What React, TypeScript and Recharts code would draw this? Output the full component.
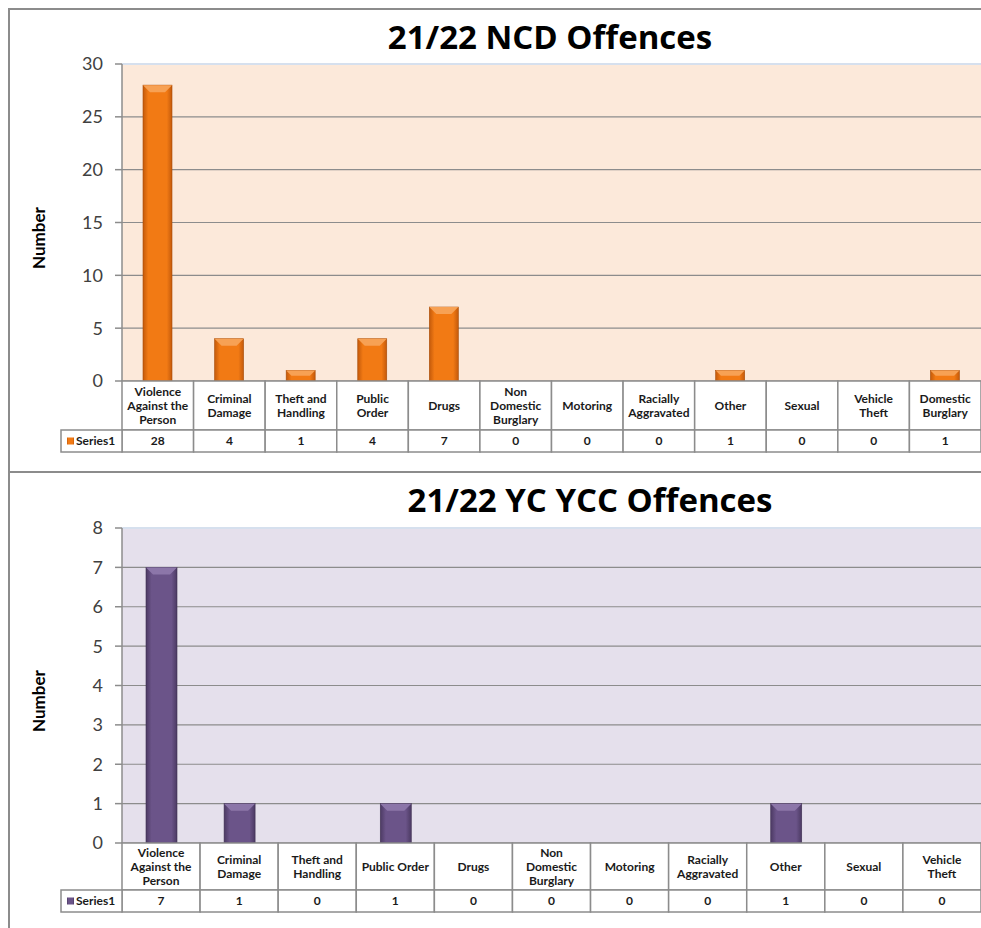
import React from "react";
import { BarChart, Bar, XAxis, YAxis, CartesianGrid, ReferenceLine } from "recharts";

// 21/22 NCD offences
const ncdCategories = [
  "Violence\nAgainst the\nPerson",
  "Criminal\nDamage",
  "Theft and\nHandling",
  "Public\nOrder",
  "Drugs",
  "Non\nDomestic\nBurglary",
  "Motoring",
  "Racially\nAggravated",
  "Other",
  "Sexual",
  "Vehicle\nTheft",
  "Domestic\nBurglary",
];
const ncdValues = [28, 4, 1, 4, 7, 0, 0, 0, 1, 0, 0, 1];
const ncdTicks = [0, 5, 10, 15, 20, 25, 30];

// 21/22 YC YCC offences
const yccCategories = [
  "Violence\nAgainst the\nPerson",
  "Criminal\nDamage",
  "Theft and\nHandling",
  "Public Order",
  "Drugs",
  "Non\nDomestic\nBurglary",
  "Motoring",
  "Racially\nAggravated",
  "Other",
  "Sexual",
  "Vehicle\nTheft",
];
const yccValues = [7, 1, 0, 1, 0, 0, 0, 0, 1, 0, 0];
const yccTicks = [0, 1, 2, 3, 4, 5, 6, 7, 8];

const seriesName = "Series1";

const FONT = "Lato, 'Open Sans', sans-serif";
const TITLE_FONT = "'Open Sans', Lato, sans-serif";
const LINE = "#8C8C8C";
const CHART_W = 971;
const AXIS_W = 112;

type Palette = { edge: string; mid: string; top: string; dark: string };

const orange: Palette = { edge: "#C45A0B", mid: "#F27A14", top: "#F7A154", dark: "#A84C08" };
const purple: Palette = { edge: "#4C3A63", mid: "#6B5489", top: "#8C76A9", dark: "#3F3053" };

interface ChartProps {
  id: string;
  title: string;
  titleX: number;
  categories: string[];
  values: number[];
  ticks: number[];
  height: number;
  marginTop: number;
  marginBottom: number;
  headerH: number;
  rowH: number;
  barSize: number;
  bg: string;
  pal: Palette;
}

const OffenceChart: React.FC<ChartProps> = (p) => {
  const data = p.categories.map((name, i) => ({ name, value: p.values[i] }));
  const max = p.ticks[p.ticks.length - 1];
  const plotBottom = p.height - p.marginBottom - p.headerH - p.rowH;
  const cellW = (CHART_W - AXIS_W) / p.categories.length;

  const renderTick = (props: any) => {
    const { x, index, payload } = props;
    const lines = String(payload.value).split("\n");
    const left = x - cellW / 2;
    const hTop = plotBottom;
    const vTop = plotBottom + p.headerH;
    const lineH = 14;
    const firstY = hTop + p.headerH / 2 - ((lines.length - 1) * lineH) / 2 + 4;
    return (
      <g>
        <rect x={left} y={hTop} width={cellW} height={p.headerH} fill="#fff" stroke={LINE} strokeWidth={1.5} />
        <rect x={left} y={vTop} width={cellW} height={p.rowH} fill="#fff" stroke={LINE} strokeWidth={1.5} />
        <text textAnchor="middle" fontFamily={FONT} fontSize={12} fontWeight={700} fill="#1a1a1a">
          {lines.map((l, i) => (
            <tspan key={i} x={x} y={firstY + i * lineH}>
              {l}
            </tspan>
          ))}
        </text>
        <text x={x} y={vTop + p.rowH / 2 + 4} textAnchor="middle" fontFamily={FONT} fontSize={12} fontWeight={700} fill="#1a1a1a">
          {p.values[index]}
        </text>
        {index === 0 && (
          <g>
            <rect x={51} y={vTop} width={AXIS_W - 51} height={p.rowH} fill="#fff" stroke={LINE} strokeWidth={1.5} />
            <rect x={57} y={vTop + p.rowH / 2 - 3.5} width={7} height={7} fill={`url(#${p.id}-grad)`} />
            <text x={66} y={vTop + p.rowH / 2 + 4} fontFamily={FONT} fontSize={12} fontWeight={700} fill="#1a1a1a">
              {seriesName}
            </text>
          </g>
        )}
      </g>
    );
  };

  const renderBar = (props: any) => {
    const { x, y, width, height } = props;
    if (!height || height <= 0) return <g />;
    const b = Math.min(7, height / 2);
    return (
      <g>
        <rect x={x} y={y} width={width} height={height} fill={`url(#${p.id}-grad)`} stroke={p.pal.dark} strokeWidth={0.6} />
        <polygon
          points={`${x},${y} ${x + width},${y} ${x + width - b},${y + b} ${x + b},${y + b}`}
          fill={p.pal.top}
        />
      </g>
    );
  };

  return (
    <div style={{ position: "relative", width: CHART_W, height: p.height }}>
      <BarChart width={CHART_W} height={p.height} data={data} margin={{ top: p.marginTop, right: 0, left: 0, bottom: p.marginBottom }}>
        <defs>
          <linearGradient id={`${p.id}-grad`} x1="0" y1="0" x2="1" y2="0">
            <stop offset="0%" stopColor={p.pal.edge} />
            <stop offset="18%" stopColor={p.pal.mid} />
            <stop offset="82%" stopColor={p.pal.mid} />
            <stop offset="100%" stopColor={p.pal.edge} />
          </linearGradient>
        </defs>
        <CartesianGrid vertical={false} fill={p.bg} fillOpacity={1} stroke={LINE} strokeWidth={1.2} />
        <XAxis dataKey="name" axisLine={false} tickLine={false} interval={0} height={p.headerH + p.rowH} tick={renderTick} />
        <YAxis
          width={AXIS_W}
          domain={[0, max]}
          ticks={p.ticks}
          interval={0}
          tickSize={7}
          tickMargin={12}
          axisLine={{ stroke: LINE, strokeWidth: 1.5 }}
          tickLine={{ stroke: LINE, strokeWidth: 1.5 }}
          tick={{ fill: "#404040", fontSize: 18, fontFamily: FONT }}
        />
        <ReferenceLine y={max} stroke="#D6E0EE" strokeWidth={2} />
        <Bar dataKey="value" barSize={p.barSize} isAnimationActive={false} shape={renderBar} />
      </BarChart>
      <svg width={CHART_W} height={p.height} style={{ position: "absolute", left: 0, top: 0, pointerEvents: "none" }}>
        <text x={p.titleX} y={39} textAnchor="middle" fontFamily={TITLE_FONT} fontSize={33} fontWeight={700} fill="#000">
          {p.title}
        </text>
        <text
          x={35}
          y={228}
          transform="rotate(-90, 35, 228)"
          textAnchor="middle"
          fontFamily={FONT}
          fontSize={17}
          fontWeight={700}
          fill="#000"
        >
          Number
        </text>
      </svg>
    </div>
  );
};

export default function App() {
  return (
    <div style={{ position: "fixed", left: 0, top: 0, width: 981, height: 928, background: "#fff", overflow: "hidden", fontFamily: FONT }}>
      <div style={{ position: "absolute", left: 8, top: 8, width: 2, height: 920, background: LINE }} />
      <div style={{ position: "absolute", left: 8, top: 8, width: 973, height: 2, background: LINE }} />
      <div style={{ position: "absolute", left: 8, top: 471, width: 973, height: 2, background: LINE }} />
      <div style={{ position: "absolute", left: 10, top: 10 }}>
        <OffenceChart
          id="ncd"
          title="21/22 NCD Offences"
          titleX={540}
          categories={ncdCategories}
          values={ncdValues}
          ticks={ncdTicks}
          height={461}
          marginTop={54}
          marginBottom={19}
          headerH={49}
          rowH={22}
          barSize={29}
          bg="#FCE9DA"
          pal={orange}
        />
      </div>
      <div style={{ position: "absolute", left: 10, top: 473 }}>
        <OffenceChart
          id="ycc"
          title="21/22 YC YCC Offences"
          titleX={580}
          categories={yccCategories}
          values={yccValues}
          ticks={yccTicks}
          height={455}
          marginTop={55}
          marginBottom={16}
          headerH={47}
          rowH={22}
          barSize={31}
          bg="#E5E0EC"
          pal={purple}
        />
      </div>
    </div>
  );
}
